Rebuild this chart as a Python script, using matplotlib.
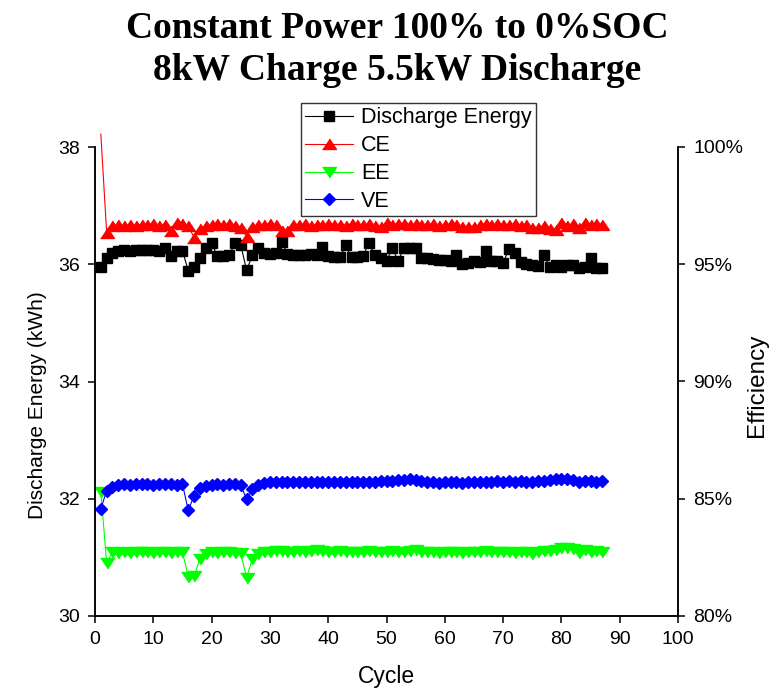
import matplotlib
matplotlib.use("Agg")
import matplotlib.pyplot as plt
import numpy as np

# Data
cycles = list(range(1, 88))

discharge_energy = [
    35.96, 36.10, 36.20, 36.22, 36.24, 36.22, 36.25, 36.24, 36.25, 36.24,
    36.22, 36.28, 36.14, 36.22, 36.23, 35.89, 35.95, 36.10, 36.27, 36.36,
    36.14, 36.14, 36.15, 36.36, 36.33, 35.90, 36.15, 36.27, 36.19, 36.18,
    36.20, 36.38, 36.18, 36.16, 36.15, 36.15, 36.18, 36.15, 36.30, 36.14,
    36.12, 36.12, 36.32, 36.12, 36.12, 36.14, 36.37, 36.15, 36.10, 36.06,
    36.27, 36.06, 36.28, 36.28, 36.28, 36.10, 36.10, 36.09, 36.08, 36.07,
    36.05, 36.15, 36.00, 36.02, 36.06, 36.04, 36.23, 36.05, 36.06, 36.02,
    36.26, 36.20, 36.04, 36.00, 35.98, 35.97, 36.15, 35.96, 35.98, 35.95,
    35.99, 35.98, 35.93, 35.95, 36.11, 35.94, 35.94]

ce = [
    100.55, 96.35, 96.62, 96.68, 96.65, 96.67, 96.64, 96.68, 96.66, 96.70,
    96.65, 96.68, 96.42, 96.78, 96.70, 96.62, 96.14, 96.50, 96.62, 96.67,
    96.70, 96.66, 96.70, 96.65, 96.55, 96.18, 96.60, 96.68, 96.66, 96.70,
    96.68, 96.42, 96.42, 96.68, 96.66, 96.70, 96.65, 96.68, 96.66, 96.70,
    96.68, 96.66, 96.65, 96.70, 96.68, 96.66, 96.70, 96.64, 96.58, 96.74,
    96.66, 96.70, 96.72, 96.66, 96.70, 96.68, 96.66, 96.72, 96.64, 96.66,
    96.70, 96.66, 96.58, 96.60, 96.58, 96.68, 96.70, 96.66, 96.70, 96.68,
    96.66, 96.70, 96.64, 96.68, 96.55, 96.56, 96.62, 96.50, 96.48, 96.74,
    96.62, 96.70, 96.56, 96.74, 96.68, 96.72, 96.66]

ee = [
    85.30, 82.25, 82.72, 82.70, 82.74, 82.70, 82.72, 82.75, 82.72, 82.70,
    82.74, 82.72, 82.70, 82.75, 82.72, 81.68, 81.70, 82.45, 82.65, 82.72,
    82.70, 82.74, 82.72, 82.70, 82.68, 81.64, 82.45, 82.66, 82.74, 82.75,
    82.78, 82.76, 82.74, 82.72, 82.76, 82.74, 82.78, 82.80, 82.76, 82.74,
    82.72, 82.76, 82.74, 82.72, 82.74, 82.72, 82.76, 82.74, 82.72, 82.74,
    82.76, 82.72, 82.74, 82.78, 82.80, 82.74, 82.72, 82.74, 82.70, 82.72,
    82.74, 82.72, 82.70, 82.72, 82.74, 82.72, 82.76, 82.74, 82.72, 82.74,
    82.72, 82.70, 82.72, 82.74, 82.66, 82.72, 82.76, 82.78, 82.82, 82.88,
    82.90, 82.84, 82.70, 82.80, 82.74, 82.76, 82.72]

ve = [
    84.56, 85.35, 85.52, 85.60, 85.62, 85.60, 85.63, 85.61, 85.62, 85.60,
    85.63, 85.61, 85.62, 85.60, 85.62, 84.51, 85.13, 85.45, 85.56, 85.60,
    85.62, 85.60, 85.63, 85.61, 85.60, 84.97, 85.42, 85.58, 85.68, 85.70,
    85.72, 85.71, 85.72, 85.70, 85.72, 85.71, 85.73, 85.72, 85.70, 85.72,
    85.71, 85.73, 85.72, 85.70, 85.72, 85.71, 85.73, 85.72, 85.74, 85.76,
    85.74, 85.78, 85.80, 85.84, 85.80, 85.74, 85.72, 85.70, 85.68, 85.70,
    85.72, 85.70, 85.68, 85.70, 85.72, 85.71, 85.73, 85.72, 85.74, 85.73,
    85.74, 85.72, 85.74, 85.73, 85.72, 85.74, 85.76, 85.80, 85.84, 85.86,
    85.84, 85.82, 85.72, 85.76, 85.74, 85.72, 85.74]

x_ticks   = [0, 10, 20, 30, 40, 50, 60, 70, 80, 90, 100]
y1_ticks  = [30, 32, 34, 36, 38]
y2_ticks  = [80, 85, 90, 95, 100]

plt.rcParams["font.family"] = ["Liberation Sans", "DejaVu Sans"]

W, H = 779, 689
fig = plt.figure(figsize=(W / 100, H / 100), dpi=100)
ax = fig.add_axes([95 / W, 1 - 616 / H, (678 - 95) / W, (616 - 147) / H])
ax2 = ax.twinx()

# Origin-style wide triangles
tri_up   = [(-1, -0.72), (1, -0.72), (0, 0.78)]
tri_down = [(-1, 0.72), (1, 0.72), (0, -0.78)]

l1, = ax.plot(cycles, discharge_energy, color="black", lw=0.8,
              marker="s", ms=7.8, mec="black", mfc="black",
              label="Discharge Energy")
l2, = ax2.plot(cycles, ce, color="red", lw=0.8, marker=tri_up, ms=10,
               mec="red", mfc="red", markevery=slice(1, None),
               clip_on=False, label="CE")
l3, = ax2.plot(cycles, ee, color="#00ff00", lw=0.8, marker=tri_down, ms=10,
               mec="#00ff00", mfc="#00ff00", label="EE")
l4, = ax2.plot(cycles, ve, color="#0000ff", lw=0.8, marker="D", ms=6.4,
               mec="#0000ff", mfc="#0000ff", label="VE")

# axes
ax.set_xlim(0, 100)
ax.set_ylim(30, 38)
ax2.set_ylim(80, 100)
ax.set_xticks(x_ticks)
ax.set_yticks(y1_ticks)
ax2.set_yticks(y2_ticks)
ax2.set_yticklabels([f"{v}%" for v in y2_ticks])

for a in (ax, ax2):
    a.spines["top"].set_visible(False)
    for s in a.spines.values():
        s.set_linewidth(1.1)
    a.tick_params(direction="out", length=5, width=1.1, labelsize=14, pad=6)

# axis titles
fig.text(386 / W, 1 - 676 / H, "Cycle", ha="center", va="center", fontsize=16.5)
fig.text(38 / W, 1 - 405 / H, "Discharge Energy (kWh)", ha="center",
         va="center", rotation=90, fontsize=15)
fig.text(757 / W, 1 - 385 / H, "Efficiency", ha="center", va="center",
         rotation=90, fontsize=17.5)

# title
fig.text(397 / W, 1 - 29 / H, "Constant Power 100% to 0%SOC",
         ha="center", va="center", fontsize=27, fontweight="bold",
         family=["Liberation Serif", "DejaVu Serif"])
fig.text(397 / W, 1 - 70 / H, "8kW Charge 5.5kW Discharge",
         ha="center", va="center", fontsize=27, fontweight="bold",
         family=["Liberation Serif", "DejaVu Serif"])

# legend
leg = fig.legend(handles=[l1, l2, l3, l4],
                 loc="upper left",
                 bbox_to_anchor=(301 / W, 1 - 103 / H),
                 fontsize=15.5, frameon=True, fancybox=False,
                 handlelength=2.2, handletextpad=0.4,
                 borderpad=0.2, labelspacing=0.32, borderaxespad=0)
leg.get_frame().set_edgecolor("black")
leg.get_frame().set_linewidth(1.0)

fig.savefig("out.png", dpi=100)
